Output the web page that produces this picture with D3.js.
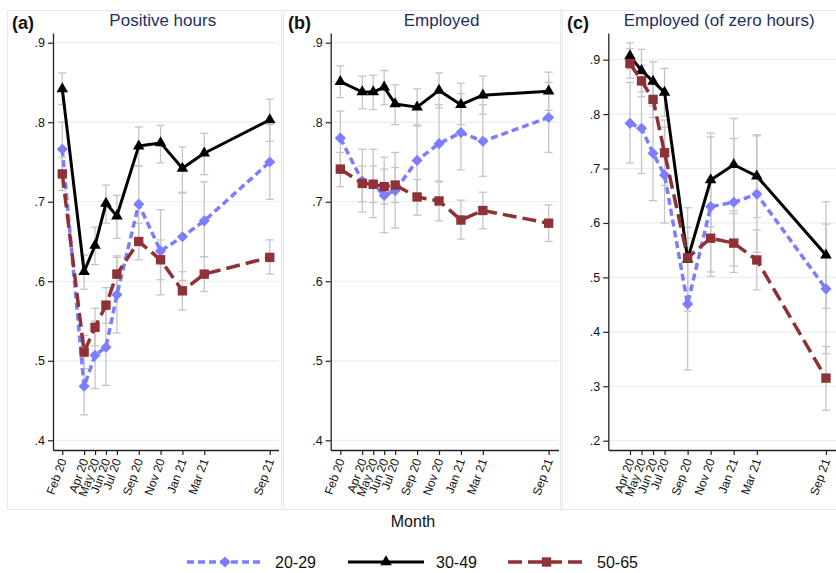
<html>
<head>
<style>
  body { margin: 0; background: #fff; font-family: "Liberation Sans", Arial, sans-serif; }
</style>
<script src="https://cdn.jsdelivr.net/npm/d3@7"></script>
</head>
<body>
<svg id="chart" width="836" height="573"></svg>
<script>
// month index counted from Feb 2020
let monthsAB = [0, 2, 3, 4, 5, 7, 9, 11, 13, 19]
let labelsAB = ["Feb 20", "Apr 20", "May 20", "Jun 20", "Jul 20", "Sep 20", "Nov 20", "Jan 21", "Mar 21", "Sep 21"]
let monthsC = [2, 3, 4, 5, 7, 9, 11, 13, 19]
let labelsC = ["Apr 20", "May 20", "Jun 20", "Jul 20", "Sep 20", "Nov 20", "Jan 21", "Mar 21", "Sep 21"]

let ticksAB = [0.4, 0.5, 0.6, 0.7, 0.8, 0.9]
let ticksC = [0.2, 0.3, 0.4, 0.5, 0.6, 0.7, 0.8, 0.9]

let groups = ["20-29", "30-49", "50-65"]

// (a) Positive hours
let a20 = [0.766, 0.468, 0.507, 0.517, 0.583, 0.697, 0.638, 0.656, 0.676, 0.750]
let a20lo = [0.732, 0.432, 0.465, 0.469, 0.535, 0.650, 0.583, 0.601, 0.631, 0.703]
let a20hi = [0.800, 0.505, 0.550, 0.565, 0.630, 0.745, 0.690, 0.711, 0.725, 0.797]
let a30 = [0.842, 0.612, 0.645, 0.698, 0.682, 0.770, 0.774, 0.742, 0.761, 0.803]
let a30lo = [0.822, 0.590, 0.621, 0.673, 0.654, 0.745, 0.749, 0.712, 0.734, 0.776]
let a30hi = [0.862, 0.633, 0.668, 0.721, 0.708, 0.794, 0.796, 0.769, 0.786, 0.829]
let a50 = [0.735, 0.511, 0.542, 0.570, 0.609, 0.650, 0.627, 0.588, 0.609, 0.630]
let a50lo = [0.714, 0.490, 0.519, 0.547, 0.585, 0.627, 0.602, 0.564, 0.587, 0.609]
let a50hi = [0.756, 0.532, 0.566, 0.592, 0.632, 0.673, 0.652, 0.612, 0.631, 0.652]

// (b) Employed
let b20 = [0.780, 0.726, 0.722, 0.708, 0.714, 0.752, 0.773, 0.787, 0.776, 0.806]
let b20lo = [0.746, 0.687, 0.680, 0.661, 0.667, 0.708, 0.726, 0.740, 0.732, 0.762]
let b20hi = [0.814, 0.766, 0.766, 0.756, 0.762, 0.797, 0.822, 0.836, 0.822, 0.850]
let b30 = [0.851, 0.838, 0.838, 0.844, 0.823, 0.819, 0.840, 0.822, 0.834, 0.839]
let b30lo = [0.831, 0.817, 0.816, 0.822, 0.797, 0.795, 0.818, 0.797, 0.810, 0.815]
let b30hi = [0.871, 0.858, 0.859, 0.865, 0.847, 0.842, 0.862, 0.849, 0.858, 0.863]
let b50 = [0.741, 0.723, 0.722, 0.719, 0.721, 0.706, 0.701, 0.677, 0.689, 0.673]
let b50lo = [0.719, 0.700, 0.699, 0.697, 0.699, 0.683, 0.676, 0.653, 0.666, 0.650]
let b50hi = [0.762, 0.745, 0.745, 0.741, 0.743, 0.728, 0.725, 0.702, 0.712, 0.696]

// (c) Employed (of zero hours)
let c20 = [0.783, 0.774, 0.728, 0.688, 0.451, 0.630, 0.638, 0.653, 0.479]
let c20lo = [0.710, 0.691, 0.641, 0.600, 0.330, 0.502, 0.521, 0.546, 0.360]
let c20hi = [0.858, 0.857, 0.815, 0.776, 0.572, 0.758, 0.755, 0.760, 0.598]
let c30 = [0.907, 0.880, 0.860, 0.840, 0.533, 0.679, 0.707, 0.686, 0.541]
let c30lo = [0.883, 0.841, 0.824, 0.796, 0.438, 0.593, 0.622, 0.610, 0.443]
let c30hi = [0.931, 0.919, 0.896, 0.884, 0.628, 0.765, 0.792, 0.762, 0.639]
let c50 = [0.893, 0.861, 0.827, 0.729, 0.536, 0.572, 0.563, 0.532, 0.315]
let c50lo = [0.866, 0.832, 0.794, 0.669, 0.480, 0.510, 0.509, 0.477, 0.256]
let c50hi = [0.920, 0.890, 0.860, 0.789, 0.592, 0.634, 0.617, 0.587, 0.373]

let styles = [
  { color: "#7d7dff", width: 3.5, dash: "7,4", symbol: "diamond" },
  { color: "#000000", width: 3, dash: null, symbol: "triangle" },
  { color: "#8e3237", width: 3.5, dash: "14,6", symbol: "square" }
]

let plotTop = 33, plotBottom = 450

let panels = [
  { tag: "(a)", title: "Positive hours", box: [7, 281], left: 53, right: 278.5,
    xDomain: [-0.85, 19.8], yDomain: [0.3878, 0.9122], yTicks: ticksAB,
    months: monthsAB, labels: labelsAB,
    series: [[a20, a20lo, a20hi], [a30, a30lo, a30hi], [a50, a50lo, a50hi]] },
  { tag: "(b)", title: "Employed", box: [283, 560], left: 330.7, right: 558.5,
    xDomain: [-0.88, 19.9], yDomain: [0.3878, 0.9122], yTicks: ticksAB,
    months: monthsAB, labels: labelsAB,
    series: [[b20, b20lo, b20hi], [b30, b30lo, b30hi], [b50, b50lo, b50hi]] },
  { tag: "(c)", title: "Employed (of zero hours)", box: [562, 840], left: 608.3, right: 836,
    xDomain: [0.12, 19.87], yDomain: [0.1829, 0.949], yTicks: ticksC,
    months: monthsC, labels: labelsC,
    series: [[c20, c20lo, c20hi], [c30, c30lo, c30hi], [c50, c50lo, c50hi]] }
]

let svg = d3.select("#chart")

function markerPath(kind) {
  if (kind == "diamond") return d3.symbol(d3.symbolSquare, 62)()
  if (kind == "triangle") return d3.symbol(d3.symbolTriangle, 58)()
  return d3.symbol(d3.symbolSquare, 88)()
}

function markerTransform(kind, px, py) {
  if (kind == "diamond") return `translate(${px},${py}) rotate(45)`
  return `translate(${px},${py})`
}

function drawPanel(p) {
  let x = d3.scaleLinear().domain(p.xDomain).range([p.left, p.right])
  let y = d3.scaleLinear().domain(p.yDomain).range([plotBottom, plotTop])

  svg.append("rect")
    .attr("x", p.box[0] + 0.5).attr("y", 10.5)
    .attr("width", p.box[1] - p.box[0]).attr("height", 499)
    .attr("fill", "none").attr("stroke", "#e2eaed")

  // grid lines
  svg.append("g").selectAll("line").data(p.yTicks).join("line")
    .attr("x1", p.left).attr("x2", p.right)
    .attr("y1", d => y(d)).attr("y2", d => y(d))
    .attr("stroke", "#e6eff1").attr("stroke-width", 1.2)

  // y axis
  let axisY = d3.axisLeft(y).tickValues(p.yTicks)
    .tickFormat(d => d3.format(".1f")(d).replace(/^0/, ""))
    .tickSize(5).tickSizeOuter(0).tickPadding(3)
  let gy = svg.append("g").attr("transform", `translate(${p.left},0)`).call(axisY)
  gy.select(".domain").attr("stroke", "#222").attr("stroke-width", 1.3)
  gy.selectAll(".tick line").attr("stroke", "#222").attr("stroke-width", 1.2)
  gy.selectAll("text").attr("font-size", 12.5).attr("fill", "#111")
    .attr("font-family", "Liberation Sans, Arial, sans-serif")

  // x axis
  let axisX = d3.axisBottom(x).tickValues(p.months)
    .tickFormat((d, i) => p.labels[i])
    .tickSize(5).tickSizeOuter(0)
  let gx = svg.append("g").attr("transform", `translate(0,${plotBottom})`).call(axisX)
  gx.select(".domain").attr("stroke", "#222").attr("stroke-width", 1.3)
  gx.selectAll(".tick line").attr("stroke", "#222").attr("stroke-width", 1.2)
  gx.selectAll("text")
    .attr("font-size", 12).attr("fill", "#111")
    .attr("font-family", "Liberation Sans, Arial, sans-serif")
    .attr("x", 0).attr("y", 0).attr("dy", "0.35em")
    .attr("transform", "translate(0,9) rotate(-70)")
    .style("text-anchor", "end")

  // confidence intervals
  let ci = svg.append("g")
  p.series.forEach(s => {
    let rows = p.months.map((m, i) => ({ m: m, lo: s[1][i], hi: s[2][i] }))
    let g = ci.append("g").attr("stroke", "#c5c5c5").attr("stroke-width", 1.3)
    g.selectAll(".v").data(rows).join("line")
      .attr("x1", d => x(d.m)).attr("x2", d => x(d.m))
      .attr("y1", d => y(d.lo)).attr("y2", d => y(d.hi))
    g.selectAll(".lo").data(rows).join("line")
      .attr("x1", d => x(d.m) - 4).attr("x2", d => x(d.m) + 4)
      .attr("y1", d => y(d.lo)).attr("y2", d => y(d.lo))
    g.selectAll(".hi").data(rows).join("line")
      .attr("x1", d => x(d.m) - 4).attr("x2", d => x(d.m) + 4)
      .attr("y1", d => y(d.hi)).attr("y2", d => y(d.hi))
  })

  // lines + markers
  p.series.forEach((s, k) => {
    let st = styles[k]
    let pts = p.months.map((m, i) => [m, s[0][i]])
    let line = d3.line().x(d => x(d[0])).y(d => y(d[1]))
    svg.append("path").datum(pts)
      .attr("d", line).attr("fill", "none")
      .attr("stroke", st.color).attr("stroke-width", st.width)
      .attr("stroke-dasharray", st.dash).attr("stroke-linejoin", "round")
    svg.append("g").selectAll("path").data(pts).join("path")
      .attr("d", markerPath(st.symbol))
      .attr("transform", d => markerTransform(st.symbol, x(d[0]), y(d[1])))
      .attr("fill", st.color)
  })

  svg.append("text").attr("x", p.box[0] + 5).attr("y", 29)
    .attr("font-size", 18).attr("font-weight", "bold").attr("fill", "#111")
    .text(p.tag)
  svg.append("text").attr("x", (p.left + p.right) / 2 - 3).attr("y", 26)
    .attr("font-size", 17).attr("fill", "#1e2f60").attr("text-anchor", "middle")
    .text(p.title)
}

function drawLegend() {
  let items = [{ x0: 187, x1: 263, lx: 275 }, { x0: 348, x1: 424, lx: 436 }, { x0: 508, x1: 585, lx: 597 }]
  let ly = 562
  items.forEach((it, k) => {
    let st = styles[k]
    svg.append("line").attr("x1", it.x0).attr("x2", it.x1).attr("y1", ly).attr("y2", ly)
      .attr("stroke", st.color).attr("stroke-width", st.width).attr("stroke-dasharray", st.dash)
    svg.append("path").attr("d", markerPath(st.symbol))
      .attr("transform", markerTransform(st.symbol, (it.x0 + it.x1) / 2, ly))
      .attr("fill", st.color)
    svg.append("text").attr("x", it.lx).attr("y", ly + 6)
      .attr("font-size", 16).attr("fill", "#111").text(groups[k])
  })
  svg.append("text").attr("x", 413).attr("y", 527).attr("text-anchor", "middle")
    .attr("font-size", 16).attr("fill", "#111").text("Month")
}

panels.forEach(drawPanel)
drawLegend()
</script>
</body>
</html>
